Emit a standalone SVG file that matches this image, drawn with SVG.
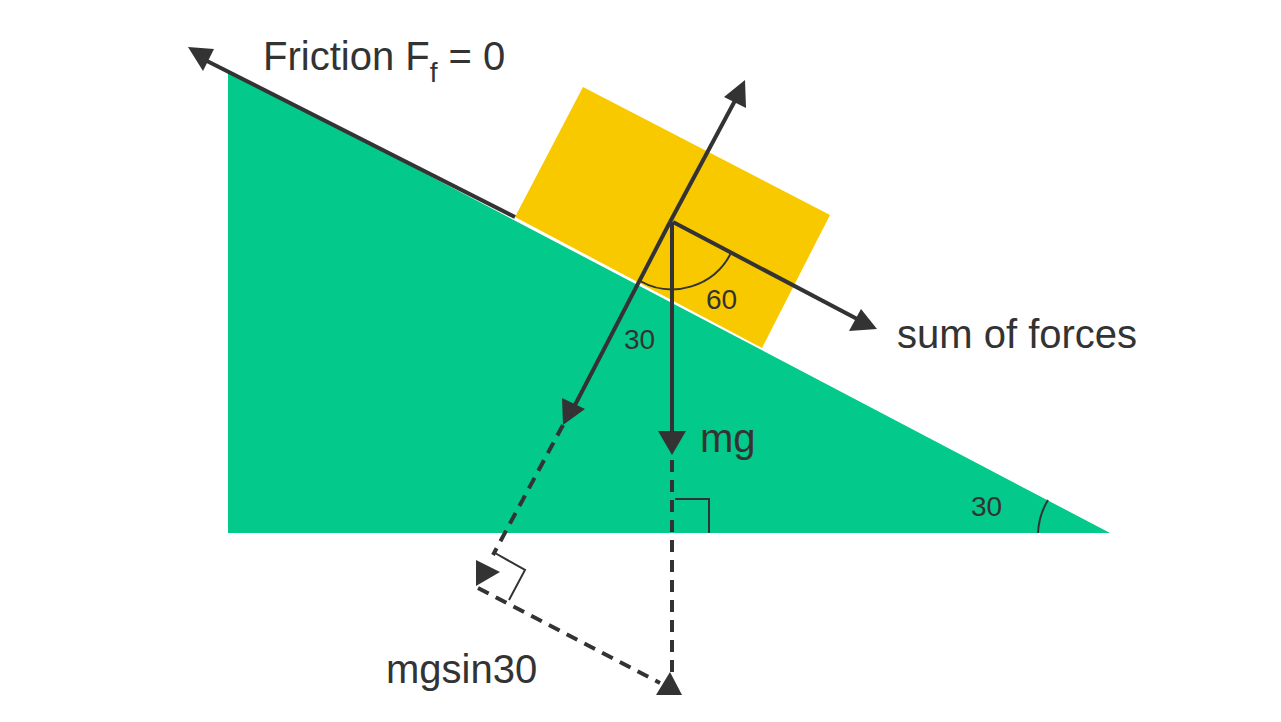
<svg xmlns="http://www.w3.org/2000/svg" width="1281" height="722" viewBox="0 0 1281 722">
<style>
.ln{stroke:#333;stroke-width:4;fill:none}
.ds{stroke:#333;stroke-width:4;fill:none;stroke-dasharray:12 8}
.th{stroke:#333;stroke-width:2;fill:none}
.ah{fill:#333}
text{font-family:"Liberation Sans",Arial,sans-serif;fill:#333}
</style>
<rect width="1281" height="722" fill="#fff"/>
<g id="ramp"><polygon points="228,70 228,533 1110,533" fill="#03c98b"/></g>
<g id="block"><polygon points="583,87 830,215 762,348 515,217" fill="#f9c900"/></g>
<g id="connectors">
<line class="ln" x1="515" y1="217" x2="205" y2="60"/>
<polygon class="ah" points="188,47 214,49 203,71"/>
<line class="ln" x1="670" y1="222" x2="738" y2="95"/>
<polygon class="ah" points="745,80 746,108 724,97"/>
<line class="ln" x1="670" y1="222" x2="575" y2="405"/>
<polygon class="ah" points="563,425 562,398 585,409"/>
<line class="ln" x1="673" y1="222" x2="861" y2="321"/>
<polygon class="ah" points="877,329 849,331 861,309"/>
<line class="ln" x1="672" y1="222" x2="672" y2="435"/>
<polygon class="ah" points="672,455 658,431 686,431"/>
<line class="ds" x1="563" y1="425" x2="493" y2="555"/>
<line class="ds" x1="672" y1="460" x2="672" y2="675"/>
<line class="ds" x1="478" y1="588" x2="660" y2="683"/>
<polygon class="ah" points="476,560 476,586 500,572"/>
<polygon class="ah" points="670,672 656,695 682,695"/>
<polyline class="th" points="495,553 525,570 509,600"/>
<polyline class="th" points="675,499 709,499 709,533"/>
<path class="th" d="M640,281 A66,66 0 0 0 731,253"/>
<path class="th" d="M1038,533 A70,70 0 0 1 1048,500"/>
</g>
<g id="labels">
<text x="263" y="70" font-size="40">Friction F<tspan font-size="28" dy="12">f</tspan><tspan dy="-12"> = 0</tspan></text>
<text x="706" y="309" font-size="28">60</text>
<text x="624" y="349" font-size="28">30</text>
<text x="897" y="348" font-size="40">sum of forces</text>
<text x="700" y="452" font-size="40">mg</text>
<text x="971" y="516" font-size="28">30</text>
<text x="386" y="683" font-size="40">mgsin30</text>
</g>
</svg>
